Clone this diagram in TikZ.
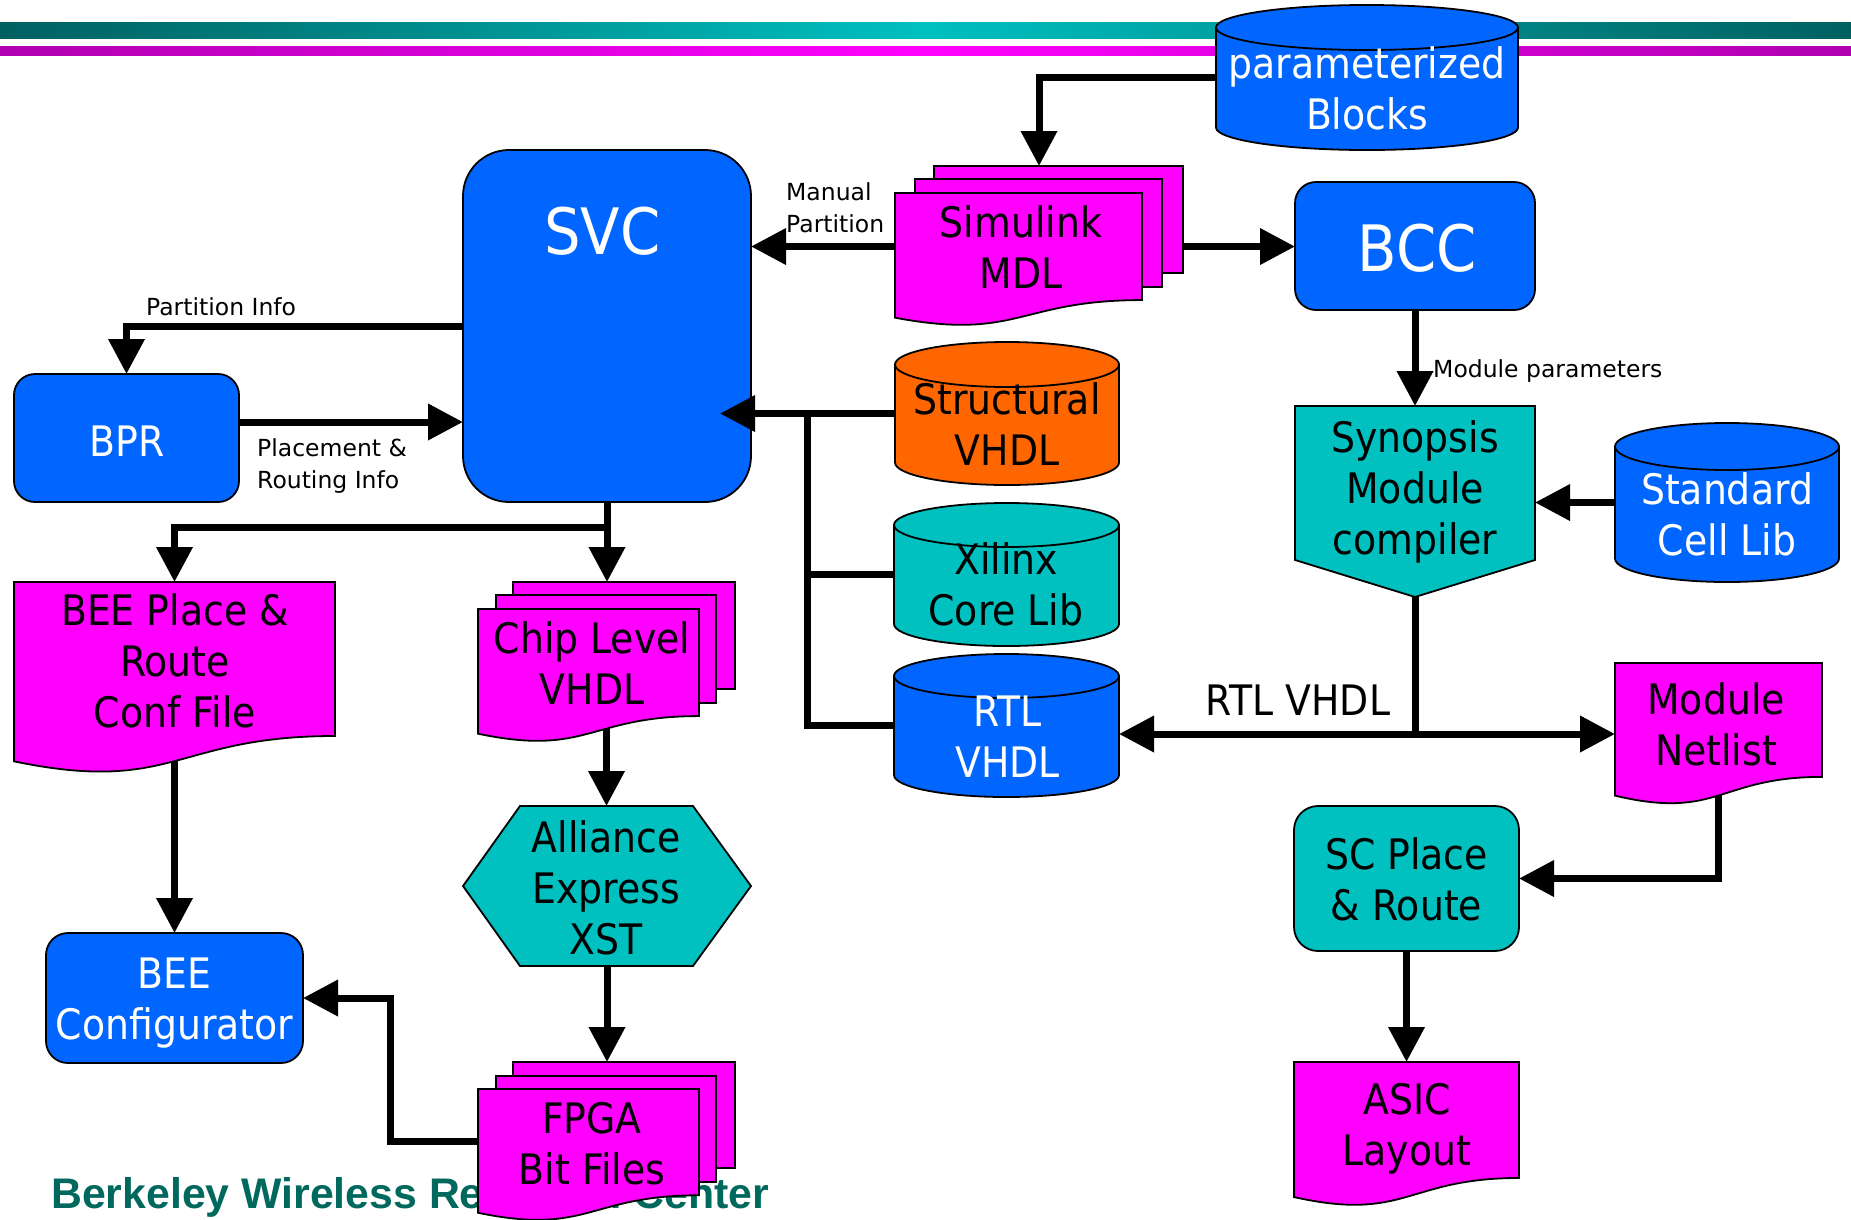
\documentclass[tikz,border=0pt]{standalone}
\usepackage{fontspec}
\setmainfont[FakeStretch=0.9]{DejaVu Sans}
\newfontfamily\lblfont{DejaVu Sans}
\newfontfamily\bwrcfont{Liberation Sans}
\usetikzlibrary{arrows.meta}
\definecolor{pblue}{RGB}{0,102,255}
\definecolor{pmag}{RGB}{255,0,255}
\definecolor{pteal}{RGB}{0,192,192}
\definecolor{porange}{RGB}{255,102,0}
\definecolor{bwrc}{RGB}{0,104,92}
\definecolor{tealdark}{RGB}{0,96,96}
\definecolor{magdark}{RGB}{176,0,176}
\newcommand\mydoc[4]{\filldraw[shp, fill=pmag] (#1,#2) -- ({#1+#3},#2) -- ({#1+#3},{#2+0.802*#4}) .. controls ({#1+0.5*#3},{#2+0.802*#4}) and ({#1+0.5*#3},{#2+1.1075*#4}) .. (#1,{#2+0.934*#4}) -- cycle;}
\newcommand\mycyl[6]{%
  \filldraw[shp, fill=#6] ({#1-#2},#3) -- ({#1-#2},#4) arc[start angle=180, end angle=0, x radius=#2, y radius=#5] -- ({#1+#2},#3) -- cycle;
  \filldraw[shp, fill=#6] (#1,#3) ellipse [x radius=#2, y radius=#5];}
\begin{document}
\begin{tikzpicture}[x=1pt, y=-1pt,
  box/.style={rectangle, inner sep=0pt, outer sep=0pt},
  shp/.style={draw=black, line width=1.8pt},
  conn/.style={line width=7pt},
  arr/.style={conn, -{Triangle[length=35pt,width=35pt]}},
  dbl/.style={conn, {Triangle[length=35pt,width=35pt]}-{Triangle[length=35pt,width=35pt]}},
  big/.style={inner sep=0pt, align=center, font=\fontsize{42}{51}\selectfont, execute at begin node=\strut, execute at end node=\strut, yshift=-2pt},
  huge/.style={inner sep=0pt, align=center, font=\fontsize{64}{77}\selectfont, execute at begin node=\strut, execute at end node=\strut},
  small/.style={inner sep=0pt, align=left, font=\lblfont\fontsize{23.5}{32}\selectfont, execute at begin node=\strut, execute at end node=\strut, yshift=-1pt}]
\useasboundingbox (0,0) rectangle (1851,1219);
\fill[white] (0,0) rectangle (1851,1219);
% header bars
\shade[left color=tealdark, right color=tealdark, middle color=pteal] (0,22) rectangle (1851,38);
\shade[left color=magdark, right color=magdark, middle color=pmag] (0,46) rectangle (1851,55);
% named node frames
\node[box, minimum width=302pt, minimum height=145pt] (params) at (1367,77.5) {};
\node[box, minimum width=288pt, minimum height=161pt] (sim) at (1039,246.5) {};
\node[box, minimum width=288pt, minimum height=352pt] (svc) at (607,326) {};
\node[box, minimum width=240pt, minimum height=128pt] (bcc) at (1415,246) {};
\node[box, minimum width=225pt, minimum height=128pt] (bpr) at (126.5,438) {};
\node[box, minimum width=224pt, minimum height=143pt] (struct) at (1007,413.5) {};
\node[box, minimum width=225pt, minimum height=143pt] (xil) at (1006.5,574.5) {};
\node[box, minimum width=225pt, minimum height=143pt] (rtl) at (1006.5,725.5) {};
\node[box, minimum width=240pt, minimum height=191pt] (syn) at (1415,501.5) {};
\node[box, minimum width=224pt, minimum height=159pt] (std) at (1727,502.5) {};
\node[box, minimum width=207pt, minimum height=142pt] (net) at (1718.5,734) {};
\node[box, minimum width=225pt, minimum height=145pt] (sc) at (1406.5,878.5) {};
\node[box, minimum width=225pt, minimum height=145pt] (asic) at (1406.5,1134.5) {};
\node[box, minimum width=321pt, minimum height=192pt] (bee) at (174.5,678) {};
\node[box, minimum width=257pt, minimum height=161pt] (chip) at (606.5,662.5) {};
\node[box, minimum width=288pt, minimum height=160pt] (all) at (607,886) {};
\node[box, minimum width=257pt, minimum height=159pt] (fpga) at (606.5,1141.5) {};
\node[box, minimum width=257pt, minimum height=130pt] (conf) at (174.5,998) {};
\coordinate (bus) at (807,413.5);
\coordinate (split) at (607,527);
% connectors (under shapes)
\draw[arr] (params.west) -| (sim.north);
\draw[arr] (sim.west) -- (sim.west -| svc.east);
\draw[arr] (sim.east) -- (sim.east -| bcc.west);
\draw[arr] (bcc.south) -- (syn.north);
\draw[arr] (std.west) -- (std.west -| syn.east);
\draw[conn] (syn.south) -- (syn.south |- net.west);
\draw[dbl] (rtl.east |- net.west) -- (net.west);
\draw[arr] (net.center) |- (sc.east);
\draw[arr] (sc.south) -- (asic.north);
\draw[conn] (rtl.west) -| (bus);
\draw[conn] (xil.west) -- (xil.west -| bus);
\draw[arr] (svc.west) -| (bpr.north);
\draw[arr] ([yshift=16pt]bpr.east) -- ([yshift=16pt]bpr.east -| svc.west);
\draw[arr] (svc.south) -- (svc.south |- chip.north);
\draw[arr] (split) -| (bee.north);
\draw[arr] (bee.center) -- (conf.north);
\draw[arr] (chip.center) -- (chip.center |- all.north);
\draw[arr] (all.south) -- (all.south |- fpga.north);
\draw[arr] (fpga.west) -- ++(-88,0) |- (conf.east);
% footer text
\node[anchor=base west, inner sep=0pt, font=\bwrcfont\bfseries\fontsize{42.8}{50}\selectfont, text=bwrc] (bwrctext) at (51,1208) {Berkeley Wireless Research Center};
% shapes
\mycyl{1367}{151}{27.5}{127.5}{22.5}{pblue}
\mycyl{1007}{112}{364.5}{462.5}{22.5}{porange}
\mycyl{1006.5}{112.5}{525}{624}{22}{pteal}
\mycyl{1006.5}{112.5}{676}{775}{22}{pblue}
\mycyl{1727}{112}{446.5}{558.5}{23.5}{pblue}
% Simulink multidoc
\filldraw[shp, fill=pmag] (934,166) rectangle (1183,273);
\filldraw[shp, fill=pmag] (915,179) rectangle (1162,287);
\mydoc{895}{193}{247}{133.5}
% Chip level multidoc
\filldraw[shp, fill=pmag] (513,582) rectangle (735,689);
\filldraw[shp, fill=pmag] (496,595) rectangle (716,703);
\mydoc{478}{609}{221}{133.5}
% FPGA multidoc
\filldraw[shp, fill=pmag] (513,1062) rectangle (735,1168);
\filldraw[shp, fill=pmag] (496,1076) rectangle (716,1182);
\mydoc{478}{1089}{221}{132.5}
% single docs
\mydoc{14}{582}{321}{192}
\mydoc{1615}{663}{207}{142}
\mydoc{1294}{1062}{225}{144.6}
% rounded boxes
\filldraw[shp, fill=pblue, rounded corners=46pt] (463,150) rectangle (751,502);
\filldraw[shp, fill=pblue, rounded corners=21pt] (1295,182) rectangle (1535,310);
\filldraw[shp, fill=pblue, rounded corners=21pt] (14,374) rectangle (239,502);
\filldraw[shp, fill=pblue, rounded corners=22pt] (46,933) rectangle (303,1063);
\filldraw[shp, fill=pteal, rounded corners=24pt] (1294,806) rectangle (1519,951);
% polygons
\filldraw[shp, fill=pteal] (463,886) -- (520,806) -- (693,806) -- (751,886) -- (693,966) -- (520,966) -- cycle;
\filldraw[shp, fill=pteal] (1295,406) -- (1535,406) -- (1535,560) -- (1415,597) -- (1295,560) -- cycle;
% arrow on top of SVC
\draw[arr] (struct.west) -- ([xshift=-31pt]struct.west -| svc.east);
% texts
\node[huge, text=white] (tsvc) at (602.5,239.4) {SVC};
\node[huge, text=white] (tbcc) at (1417,255.9) {BCC};
\node[big, text=white] (tbpr) at (127,444.1) {BPR};
\node[big, text=white] (tparams) at (1367,93.4) {parameterized\\Blocks};
\node[big] (tsim) at (1021,252.9) {Simulink\\MDL};
\node[big] (tstruct) at (1007,430.1) {Structural\\VHDL};
\node[big] (txil) at (1006,590.1) {Xilinx\\Core Lib};
\node[big, text=white] (trtl) at (1007.5,742.6) {RTL\\VHDL};
\node[big, text=white] (tstd) at (1727,520.1) {Standard\\Cell Lib};
\node[big] (tsyn) at (1415,493.6) {Synopsis\\Module\\compiler};
\node[big] (tnet) at (1716,730.1) {Module\\Netlist};
\node[big] (tsc) at (1406.5,885.1) {SC Place\\\& Route};
\node[big] (tasic) at (1407,1129.6) {ASIC\\Layout};
\node[big] (tbee) at (175,666.6) {BEE Place \&\\Route\\Conf File};
\node[big, text=white] (tconf) at (174.5,1004.1) {BEE\\Configurator};
\node[big] (tchip) at (592,669.1) {Chip Level\\VHDL};
\node[big] (tall) at (606,893.1) {Alliance\\Express\\XST};
\node[big] (tfpga) at (592,1148.6) {FPGA\\Bit Files};
\node[big] (trtllbl) at (1298,703.1) {RTL VHDL};
\node[small, anchor=west] (lman) at (786,210.9) {Manual\\Partition};
\node[small, anchor=west] (lpart) at (146,307.7) {Partition Info};
\node[small, anchor=west] (lplace) at (257,467.2) {Placement \&\\Routing Info};
\node[small, anchor=west] (lmod) at (1433,370.2) {Module parameters};
\end{tikzpicture}
\end{document}
